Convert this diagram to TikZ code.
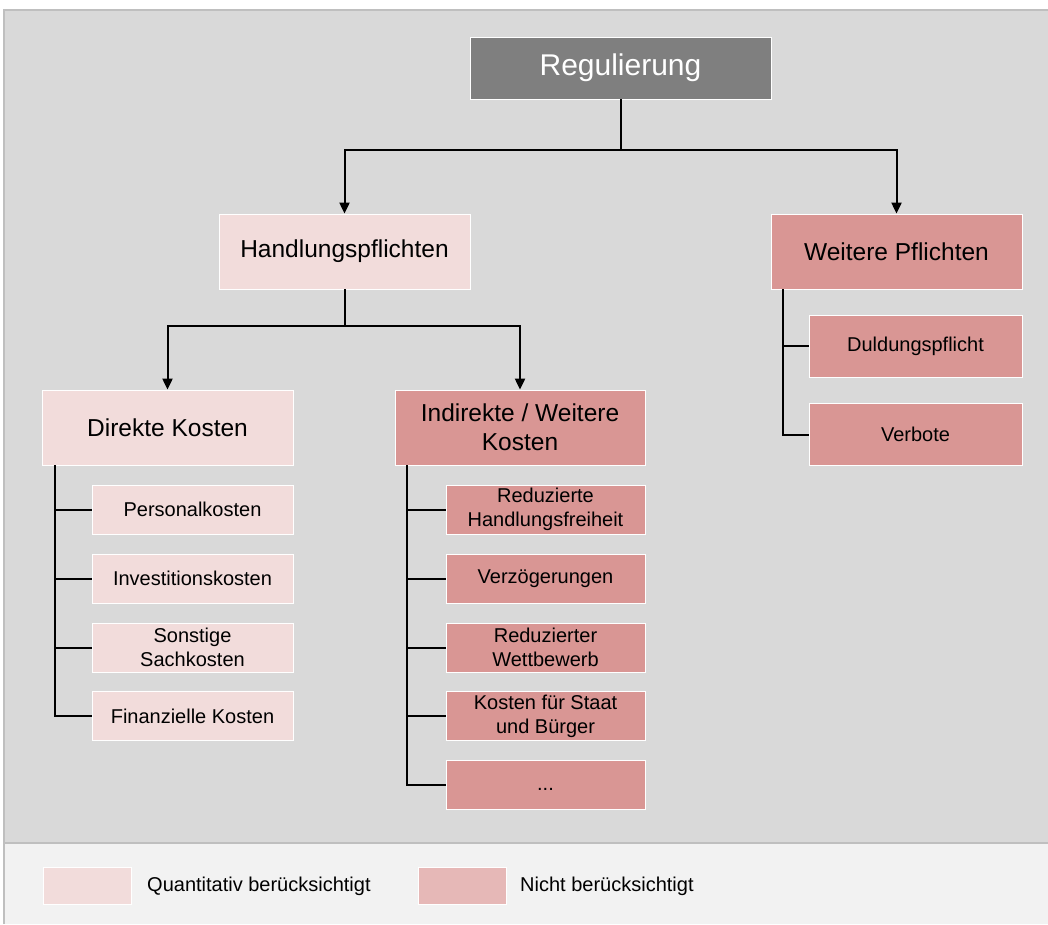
\documentclass[tikz,border=0pt]{standalone}
\usepackage{fontspec}
\setmainfont{Liberation Sans}
\usetikzlibrary{arrows.meta}
\definecolor{panelgray}{HTML}{D9D9D9}
\definecolor{legendbg}{HTML}{F2F2F2}
\definecolor{bordergray}{HTML}{BFBFBF}
\definecolor{topgray}{HTML}{7F7F7F}
\definecolor{lightpink}{HTML}{F2DCDB}
\definecolor{darkpink}{HTML}{D99694}
\definecolor{legendpink}{HTML}{E6B8B7}
\tikzset{
  box/.style={draw=white, line width=0.8pt, inner sep=0pt, align=center, text=black},
  topbox/.style={box, fill=topgray, text=white, font=\fontsize{30}{34}\selectfont},
  midlight/.style={box, fill=lightpink, font=\fontsize{24.5}{29}\selectfont},
  middark/.style={box, fill=darkpink, font=\fontsize{24.5}{29}\selectfont},
  sublight/.style={box, fill=lightpink, font=\fontsize{20}{24}\selectfont},
  subdark/.style={box, fill=darkpink, font=\fontsize{20}{24}\selectfont},
  conn/.style={draw=black, line width=2pt},
  arr/.style={conn, -{Triangle[width=10pt,length=11pt]}},
  legtext/.style={anchor=west, inner sep=0pt, font=\fontsize{20}{24}\selectfont}
}
\begin{document}
\begin{tikzpicture}[x=1pt,y=-1pt]
\useasboundingbox (0,0) rectangle (1048,924);
\fill[white] (0,0) rectangle (1048,924);
\fill[panelgray] (4,10) rectangle (1048,843);
\fill[legendbg] (4,843) rectangle (1048,924);
\draw[bordergray, line width=1.5pt] (4,924) -- (4,10) -- (1048,10);
\draw[bordergray, line width=1.5pt] (4,843) -- (1048,843);

% top
\node[topbox, minimum width=301pt, minimum height=62pt] (reg) at (620.5,68) {Regulierung};
% level 2
\node[midlight, minimum width=251pt, minimum height=75pt] (hp) at (344.5,251.5) {Handlungspflichten};
\node[middark, minimum width=251pt, minimum height=75pt] (wp) at (896.5,251.5) {Weitere Pflichten};
% level 3
\node[midlight, minimum width=251pt, minimum height=75pt] (dk) at (167.5,427.5) {Direkte Kosten};
\node[middark, minimum width=250pt, minimum height=75pt] (ik) at (520,427.5) {Indirekte / Weitere\\Kosten};
% left subs
\node[sublight, minimum width=201pt, minimum height=49pt] (pk) at (192.5,509.5) {Personalkosten};
\node[sublight, minimum width=201pt, minimum height=49pt] (ivk) at (192.5,578.5) {Investitionskosten};
\node[sublight, minimum width=201pt, minimum height=49pt] (sk) at (192.5,647.5) {Sonstige\\Sachkosten};
\node[sublight, minimum width=201pt, minimum height=49pt] (fk) at (192.5,716) {Finanzielle Kosten};
% middle subs
\node[subdark, minimum width=199pt, minimum height=49pt] (rh) at (545.5,509.5) {Reduzierte\\Handlungsfreiheit};
\node[subdark, minimum width=199pt, minimum height=49pt] (vz) at (545.5,578.5) {Verzögerungen};
\node[subdark, minimum width=199pt, minimum height=49pt] (rw) at (545.5,647.5) {Reduzierter\\Wettbewerb};
\node[subdark, minimum width=199pt, minimum height=49pt] (ks) at (545.5,716) {Kosten für Staat\\und Bürger};
\node[subdark, minimum width=199pt, minimum height=49pt] (etc) at (545.5,785) {\raisebox{-5pt}[0pt][0pt]{...}};
% right subs
\node[subdark, minimum width=213pt, minimum height=62pt] (dp) at (915.5,346) {Duldungspflicht};
\node[subdark, minimum width=213pt, minimum height=62pt] (vb) at (915.5,434.5) {Verbote};

% arrows
\draw[arr] (reg.south) -- ++(0,51) -| (hp.north);
\draw[arr] (reg.south) -- ++(0,51) -| (wp.north);
\draw[arr] (hp.south) -- ++(0,37) -| (dk.north);
\draw[arr] (hp.south) -- ++(0,37) -| (ik.north);

% branches
\foreach \c in {pk,ivk,sk,fk} \draw[conn] ([xshift=13pt]dk.south west) |- (\c.west);
\foreach \c in {rh,vz,rw,ks,etc} \draw[conn] ([xshift=12pt]ik.south west) |- (\c.west);
\foreach \c in {dp,vb} \draw[conn] ([xshift=12pt]wp.south west) |- (\c.west);

% legend
\node[box, fill=lightpink, minimum width=88pt, minimum height=37pt] (lq) at (87,885.5) {};
\node[legtext] (lqt) at (147,886) {Quantitativ berücksichtigt};
\node[box, fill=legendpink, minimum width=88pt, minimum height=37pt] (ln) at (462,885.5) {};
\node[legtext] (lnt) at (520,886) {Nicht berücksichtigt};
\end{tikzpicture}
\end{document}
